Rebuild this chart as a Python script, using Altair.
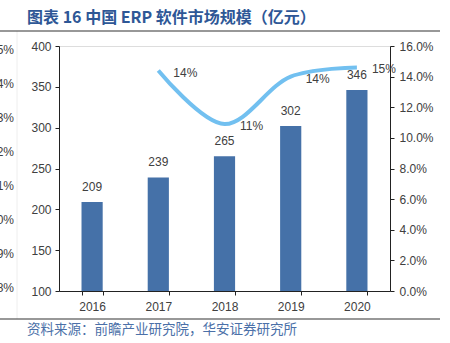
import altair as alt
import pandas as pd

years = ["2016", "2017", "2018", "2019", "2020"]
market = [209, 239, 265, 302, 346]
growth = [None, 0.144, 0.109, 0.140, 0.146]
growth_labels = ["", "14%", "11%", "14%", "15%"]
left_ticks = [100, 150, 200, 250, 300, 350, 400]
right_ticks = [0, 0.02, 0.04, 0.06, 0.08, 0.10, 0.12, 0.14, 0.16]
ghost_labels = ["15%", "14%", "13%", "12%", "11%", "10%", "9%", "8%"]
title_text = "图表 16 中国 ERP 软件市场规模（亿元）"
source_text = "资料来源：前瞻产业研究院，华安证券研究所"

df = pd.DataFrame({"year": years, "market": market, "growth": growth, "glabel": growth_labels})
dline = df.dropna()

FONT = "Liberation Sans"
CJK = "Noto Sans CJK SC"
GRAY = "#404040"

xscale = alt.Scale(paddingInner=0.68, paddingOuter=0.34)
xaxis = alt.Axis(labelAngle=0, tickBand="extent", labelFontSize=12, labelColor=GRAY,
                 labelFont=FONT, domainColor="#222", tickColor="#222", tickSize=4,
                 labelPadding=6)
yl = alt.Scale(domain=[100, 400], nice=False, zero=False)
yr = alt.Scale(domain=[0, 0.16], nice=False)
ylaxis = alt.Axis(values=left_ticks, grid=False, labelFontSize=12, labelColor=GRAY,
                  labelFont=FONT, domainColor="#222", tickColor="#222", tickSize=4,
                  labelPadding=4, labelOverlap=False)
yraxis = alt.Axis(orient="right", values=right_ticks, format=".1%", grid=False,
                  labelFontSize=12, labelColor=GRAY, labelFont=FONT, labelOverlap=False,
                  domainColor="#222", tickColor="#222", tickSize=4, labelPadding=5)

X = alt.X("year:N", title=None, scale=xscale, axis=xaxis)

bars = alt.Chart(df).mark_bar(color="#4571A8").encode(
    x=X,
    y=alt.Y("market:Q", scale=yl, title=None, axis=ylaxis),
    y2=alt.datum(100),
)
bar_text = alt.Chart(df).mark_text(baseline="bottom", dy=-8, fontSize=12, font=FONT, color=GRAY).encode(
    x=X, y=alt.Y("market:Q", scale=yl, title=None, axis=ylaxis), text="market:Q")

left = alt.layer(bars, bar_text)

line = alt.Chart(dline).mark_line(color="#72C0F0", strokeWidth=4, interpolate="catmull-rom").encode(
    x=X,
    y=alt.Y("growth:Q", scale=yr, title=None, axis=yraxis),
)
line_text = alt.Chart(dline).mark_text(dx=27, dy=2, fontSize=12, font=FONT, color=GRAY).encode(
    x=X, y=alt.Y("growth:Q", scale=yr, title=None, axis=yraxis), text="glabel:N")

right = alt.layer(line, line_text)

# decorations outside plot area
ghost_df = pd.DataFrame({"lab": ghost_labels, "i": list(range(len(ghost_labels)))})
ghost = alt.Chart(ghost_df).mark_text(align="right", baseline="middle", fontSize=12, font=FONT,
                                      color=GRAY).encode(
    x=alt.value(-45),
    y=alt.Y("i:O", axis=None, scale=alt.Scale(type="point", range=[4, 242], padding=0)),
    text="lab:N")

title = alt.Chart(pd.DataFrame({"t": [title_text]})).mark_text(
    align="left", baseline="middle", fontSize=16, fontWeight="bold", font=CJK, color="#2E5796"
).encode(x=alt.value(-32), y=alt.value(-28), text="t:N")

source = alt.Chart(pd.DataFrame({"t": [source_text]})).mark_text(
    align="left", baseline="middle", fontSize=13.5, font=CJK, color="#4B70A8"
).encode(x=alt.value(-32), y=alt.value(284), text="t:N")

top_rule = alt.Chart(pd.DataFrame({"a": [0]})).mark_rule(color="#333", strokeWidth=1.2).encode(
    x=alt.value(-59), x2=alt.value(381), y=alt.value(-15))
bot_rule = alt.Chart(pd.DataFrame({"a": [0]})).mark_rule(color="#333", strokeWidth=1.2).encode(
    x=alt.value(-59), x2=alt.value(381), y=alt.value(273))
vrule = alt.Chart(pd.DataFrame({"a": [0]})).mark_rule(color="#EEEEEE", strokeWidth=1).encode(
    x=alt.value(-42), y=alt.value(-15), y2=alt.value(273))

main = alt.layer(left, right).resolve_scale(y="independent")

chart = alt.layer(vrule, top_rule, bot_rule, title, source, main, ghost).resolve_scale(
    y="independent").properties(
    width=331, height=245,
    autosize=alt.AutoSizeParams(type="none"),
    padding={"left": 59, "top": 46, "right": 60, "bottom": 52},
).configure_view(stroke=None).configure(background="white")

chart.save("out.html", embed_options={"renderer": "svg", "actions": False})
